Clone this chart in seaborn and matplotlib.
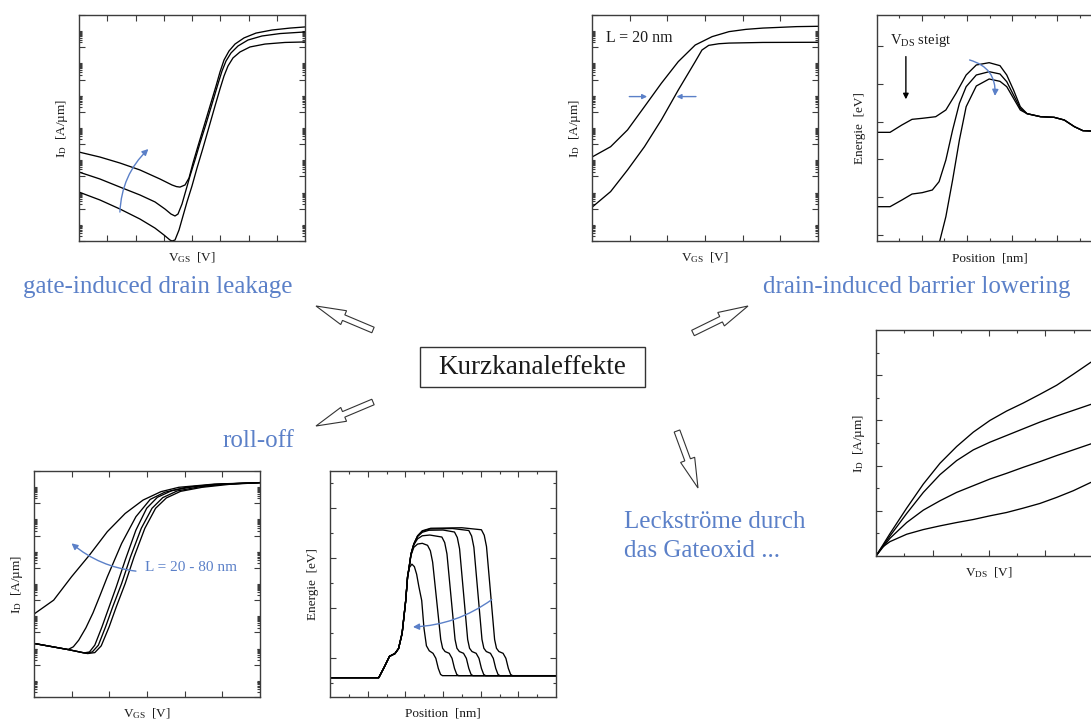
import numpy as np
import matplotlib
matplotlib.use("Agg")
import matplotlib.pyplot as plt
import matplotlib.ticker as mticker
from matplotlib.patches import FancyArrow, Rectangle
from matplotlib.transforms import Affine2D
import seaborn as sns

sns.set_theme(style="white")
plt.rcParams["font.family"] = ["Liberation Serif", "DejaVu Serif"]
plt.rcParams["mathtext.fontset"] = "custom"
plt.rcParams["mathtext.rm"] = "Liberation Serif"
plt.rcParams["mathtext.it"] = "Liberation Serif:italic"
plt.rcParams["mathtext.bf"] = "Liberation Serif:bold"

# ---------------- data (x, log10 I_D) or (x, energy) ----------------
# gate-induced drain leakage: I_D vs V_GS (log10 of I_D)
gidl_high = [(0, -8.49), (0.743, -8.80), (1.451, -9.17), (2.159, -9.60), (2.867, -10.16),
             (3.292, -10.53), (3.45, -10.63), (3.575, -10.66), (3.752, -10.53), (3.894, -10.10),
             (4.035, -9.17), (4.212, -8.12), (4.425, -6.88), (4.637, -5.64), (4.850, -4.40),
             (4.991, -3.53), (5.133, -2.79), (5.310, -2.23), (5.522, -1.80), (5.841, -1.42),
             (6.265, -1.12), (6.832, -0.93), (7.469, -0.81), (8.0, -0.74)]
gidl_mid = [(0, -9.73), (0.743, -10.16), (1.451, -10.66), (2.159, -11.15), (2.690, -11.58),
            (3.044, -12.02), (3.257, -12.33), (3.398, -12.45), (3.504, -12.33), (3.646, -11.71),
            (3.788, -10.84), (3.929, -9.97), (4.106, -8.98), (4.283, -7.93), (4.496, -6.75),
            (4.708, -5.51), (4.920, -4.27), (5.062, -3.47), (5.204, -2.85), (5.381, -2.35),
            (5.628, -1.92), (5.982, -1.55), (6.478, -1.30), (7.115, -1.15), (8.0, -1.05)]
gidl_low = [(0, -10.97), (0.743, -11.46), (1.451, -12.02), (2.159, -12.64), (2.690, -13.20),
            (3.009, -13.63), (3.221, -13.94), (3.292, -14.0), (3.398, -13.94), (3.540, -13.32),
            (3.681, -12.45), (3.823, -11.58), (4.000, -10.59), (4.177, -9.48), (4.389, -8.24),
            (4.602, -6.94), (4.814, -5.64), (4.991, -4.58), (5.133, -3.78), (5.274, -3.16),
            (5.451, -2.66), (5.699, -2.29), (6.053, -1.98), (6.584, -1.80), (7.292, -1.70),
            (8.0, -1.67)]

# DIBL: I_D vs V_GS, L = 20 nm (log10 of I_D)
dibl_id_high_vds = [(0, -8.80), (0.494, -8.16), (0.943, -7.12), (1.392, -5.68), (1.841, -4.23),
                    (2.290, -2.89), (2.740, -1.86), (3.189, -1.34), (3.638, -1.03), (4.087, -0.89),
                    (4.536, -0.81), (5.434, -0.72), (6.0, -0.70)]
dibl_id_low_vds = [(0, -11.91), (0.494, -10.94), (0.943, -9.60), (1.392, -8.16), (1.841, -6.50),
                   (2.290, -4.65), (2.740, -2.89), (2.919, -2.17), (3.099, -1.88), (3.368, -1.78),
                   (3.638, -1.74), (4.536, -1.70), (6.0, -1.69)]

# DIBL: band energy vs position for rising V_DS
dibl_e_low = [(0, 2.715), (0.599, 2.715), (1.123, 2.91), (1.572, 3.06), (2.021, 3.087),
              (2.620, 3.13), (3.069, 3.308), (3.518, 3.75), (3.967, 4.237), (4.416, 4.503),
              (4.985, 4.564), (5.464, 4.485), (5.763, 4.237), (6.063, 3.839), (6.362, 3.396),
              (6.662, 3.21)]
dibl_e_mid = [(0, 0.741), (0.599, 0.741), (1.123, 0.918), (1.572, 1.077), (2.021, 1.113),
              (2.470, 1.184), (2.769, 1.405), (3.069, 1.98), (3.368, 2.777), (3.668, 3.485),
              (3.967, 3.927), (4.416, 4.237), (4.985, 4.325), (5.464, 4.264), (5.763, 4.06),
              (6.063, 3.706), (6.362, 3.352), (6.662, 3.21)]
dibl_e_high = [(2.799, -0.17), (3.069, 0.476), (3.368, 1.45), (3.668, 2.511), (3.967, 3.396),
               (4.416, 3.945), (4.985, 4.131), (5.464, 4.069), (5.763, 3.927), (6.063, 3.617),
               (6.362, 3.308), (6.662, 3.21)]
dibl_e_drain = [(7.260, 3.13), (7.859, 3.113), (8.308, 3.042), (8.757, 2.865), (9.132, 2.759),
                (9.476, 2.75)]

# roll-off: I_D vs V_GS for L = 20 ... 80 nm (log10 of I_D)
roll_L20 = [(0.019, -8.83), (0.522, -8.00), (0.997, -6.55), (1.472, -5.21), (1.946, -3.76),
            (2.421, -2.63), (2.896, -1.80), (3.370, -1.28), (3.845, -1.01), (4.794, -0.81),
            (6.0, -0.72)]
roll_start = [(0.019, -10.69), (0.902, -11.06)]
roll_L35 = [(1.044, -10.89), (1.187, -10.48), (1.377, -9.72), (1.566, -8.79), (1.756, -7.69),
            (1.946, -6.56), (2.326, -4.49), (2.706, -2.83), (3.085, -1.76), (3.465, -1.32),
            (4.035, -1.01), (4.794, -0.83), (6.0, -0.72)]
roll_L50 = [(1.329, -11.27), (1.472, -11.21), (1.614, -10.79), (1.804, -9.66), (1.994, -8.42),
            (2.184, -7.18), (2.421, -5.52), (2.706, -3.66), (2.991, -2.31), (3.275, -1.63),
            (3.655, -1.22), (4.225, -0.97), (4.984, -0.81), (6.0, -0.72)]
roll_L65 = [(1.377, -11.29), (1.547, -11.21), (1.709, -10.79), (1.899, -9.66), (2.089, -8.42),
            (2.326, -6.97), (2.563, -5.31), (2.848, -3.55), (3.133, -2.31), (3.418, -1.65),
            (3.797, -1.24), (4.367, -0.99), (5.079, -0.81), (6.0, -0.72)]
roll_L80 = [(1.424, -11.31), (1.614, -11.25), (1.785, -10.83), (1.994, -9.66), (2.184, -8.42),
            (2.421, -6.97), (2.658, -5.31), (2.943, -3.55), (3.228, -2.31), (3.513, -1.67),
            (3.892, -1.26), (4.462, -1.01), (5.174, -0.83), (6.0, -0.72)]

# roll-off: band energy vs position for L = 20 ... 80 nm
barrier_source = [(0.0, 0.23), (2.59, 0.23), (2.88, 0.65), (3.16, 1.08), (3.45, 1.19),
                  (3.64, 1.39), (3.83, 2.0), (4.02, 3.3), (4.12, 4.25)]
barrier_L20 = [(4.22, 4.62), (4.35, 4.75), (4.48, 4.65), (4.6, 4.35), (4.72, 3.85), (4.87, 3.3),
               (4.99, 2.2), (5.12, 1.5), (5.27, 1.3), (5.47, 1.2), (5.62, 1.0), (5.75, 0.6),
               (5.87, 0.36), (5.97, 0.31), (12.0, 0.31)]
barrier_L35 = [(4.2, 4.6), (4.3, 5.1), (4.45, 5.42), (4.65, 5.55), (4.9, 5.58), (5.18, 5.50),
               (5.33, 5.28), (5.45, 4.83), (5.88, 1.75), (5.98, 1.4), (6.11, 1.27), (6.33, 1.2),
               (6.48, 1.0), (6.61, 0.6), (6.73, 0.36), (6.83, 0.31), (12.0, 0.31)]
barrier_L50 = [(4.2, 4.62), (4.3, 5.15), (4.45, 5.52), (4.65, 5.76), (4.9, 5.88), (5.3, 5.91),
               (5.94, 5.83), (6.09, 5.61), (6.21, 5.16), (6.64, 1.75), (6.74, 1.4), (6.87, 1.27),
               (7.09, 1.2), (7.24, 1.0), (7.37, 0.6), (7.49, 0.36), (7.59, 0.31), (12.0, 0.31)]
barrier_L65 = [(4.2, 4.62), (4.3, 5.15), (4.45, 5.55), (4.65, 5.85), (4.9, 6.02), (5.25, 6.1),
               (6.0, 6.11), (6.61, 6.03), (6.76, 5.81), (6.88, 5.36), (7.31, 1.75), (7.41, 1.4),
               (7.54, 1.27), (7.76, 1.2), (7.91, 1.0), (8.04, 0.6), (8.16, 0.36), (8.26, 0.31),
               (12.0, 0.31)]
barrier_L80 = [(4.2, 4.62), (4.3, 5.15), (4.45, 5.55), (4.65, 5.87), (4.9, 6.06), (5.3, 6.15),
               (6.5, 6.17), (7.37, 6.09), (7.52, 5.87), (7.64, 5.42), (8.07, 1.75), (8.17, 1.4),
               (8.30, 1.27), (8.52, 1.2), (8.67, 1.0), (8.80, 0.6), (8.92, 0.36), (9.02, 0.31),
               (12.0, 0.31)]
barrier_L95 = [(4.2, 4.62), (4.3, 5.15), (4.45, 5.55), (4.65, 5.88), (4.9, 6.08), (5.35, 6.18),
               (7.0, 6.2), (8.04, 6.12), (8.19, 5.9), (8.31, 5.45), (8.74, 1.75), (8.84, 1.4),
               (8.97, 1.27), (9.19, 1.2), (9.34, 1.0), (9.47, 0.6), (9.59, 0.36), (9.69, 0.31),
               (12.0, 0.31)]

# output characteristics: I_D vs V_DS
vds = [0, 0.496, 1.086, 1.676, 2.265, 2.855, 3.445, 4.035, 4.625, 5.215, 5.805, 6.395, 6.985, 7.611]
id_vgs4 = [0, 0.993, 2.119, 3.185, 4.104, 4.844, 5.481, 6.0, 6.415, 6.770, 7.156, 7.556, 8.044, 8.578]
id_vgs3 = [0, 0.889, 1.881, 2.815, 3.6, 4.222, 4.696, 5.037, 5.333, 5.630, 5.926, 6.193, 6.444, 6.711]
id_vgs2 = [0, 0.785, 1.481, 2.030, 2.444, 2.815, 3.111, 3.407, 3.659, 3.926, 4.178, 4.444, 4.696, 4.963]
vds_low = [0, 0.2, 0.496, 1.086, 1.676, 2.265, 2.855, 3.445, 4.035, 4.625, 5.215, 5.805, 6.395, 6.985, 7.611]
id_vgs1 = [0, 0.37, 0.637, 0.963, 1.170, 1.333, 1.481, 1.615, 1.778, 1.926, 2.119, 2.326, 2.593, 2.889, 3.259]

# ---------------- styling ----------------
W, H = 1091, 719
BLUE = "#5b80c8"
INK = "#1a1a1a"
SPINE = "#3c3c3c"
LBL = 9.5

fig = plt.figure(figsize=(W / 100, H / 100), dpi=100)
fig.patch.set_facecolor("white")
PX = Affine2D().scale(1 / W, 1 / H) + fig.transFigure


def panel(left, top, size=226):
    ax = fig.add_axes([left / W, 1 - (top + size) / H, size / W, size / H])
    ax.set_facecolor("white")
    ax.grid(False)
    for s in ax.spines.values():
        s.set_visible(True)
        s.set_color(SPINE)
        s.set_linewidth(1.0)
    return ax


def finish(ax, xl, yl):
    ax.tick_params(which="both", direction="in", top=True, right=True, bottom=True, left=True,
                   labelbottom=False, labelleft=False, color=SPINE, width=0.8)
    ax.tick_params(which="major", length=4.2)
    ax.tick_params(which="minor", length=2.3)
    ax.xaxis.set_major_formatter(mticker.NullFormatter())
    ax.xaxis.set_minor_formatter(mticker.NullFormatter())
    ax.yaxis.set_major_formatter(mticker.NullFormatter())
    ax.yaxis.set_minor_formatter(mticker.NullFormatter())
    ax.set_xlabel(xl, fontsize=LBL, color=INK, va="center")
    ax.set_ylabel(yl, fontsize=LBL, color=INK, va="center")
    ax.xaxis.set_label_coords(0.5, -17 / 226)
    ax.yaxis.set_label_coords(-17 / 226, 0.5)


def draw(ax, pts, log=False):
    x = np.array([p[0] for p in pts], dtype=float)
    y = np.array([p[1] for p in pts], dtype=float)
    if log:
        y = np.power(10.0, y)
    sns.lineplot(x=x, y=y, ax=ax, color="black", lw=0.95, sort=False, estimator=None,
                 legend=False)


def log_axis(ax, xmax):
    ax.set_yscale("log")
    ax.set_ylim(1e-14, 1.0)
    ax.set_xlim(0, xmax)
    ax.yaxis.set_major_locator(mticker.FixedLocator([10.0 ** e for e in range(-14, 1, 2)]))
    ax.yaxis.set_minor_locator(mticker.FixedLocator(
        [m * 10.0 ** e for e in range(-14, 0, 2) for m in range(2, 11)]))
    ax.xaxis.set_major_locator(mticker.FixedLocator(list(range(1, xmax))))
    ax.xaxis.set_minor_locator(mticker.NullLocator())


def blue_arrow(ax, start, end, rad, color=BLUE, ms=9):
    ax.annotate("", xy=end, xytext=start, xycoords="axes fraction", textcoords="axes fraction",
                arrowprops=dict(arrowstyle="-|>", color=color, lw=1.0, mutation_scale=ms,
                                shrinkA=0, shrinkB=0, connectionstyle=f"arc3,rad={rad}"))


ID_LABEL = r"$\mathrm{I}_{\mathrm{D}}$  [A/µm]"
VGS_LABEL = r"$\mathrm{V}_{\mathrm{GS}}$  [V]"
VDS_LABEL = r"$\mathrm{V}_{\mathrm{DS}}$  [V]"
POS_LABEL = "Position  [nm]"
E_LABEL = "Energie  [eV]"

# Panel 1: GIDL
ax1 = panel(79, 15)
for c in (gidl_high, gidl_mid, gidl_low):
    draw(ax1, c, log=True)
log_axis(ax1, 8)
finish(ax1, VGS_LABEL, ID_LABEL)
blue_arrow(ax1, (0.181, 0.128), (0.307, 0.407), -0.2)

# Panel 2: DIBL I-V
ax2 = panel(592, 15)
for c in (dibl_id_high_vds, dibl_id_low_vds):
    draw(ax2, c, log=True)
log_axis(ax2, 6)
finish(ax2, VGS_LABEL, ID_LABEL)
blue_arrow(ax2, (0.165, 0.639), (0.244, 0.639), 0.0, ms=7)
blue_arrow(ax2, (0.46, 0.639), (0.374, 0.639), 0.0, ms=7)
ax2.text(0.06, 0.90, "L = 20 nm", transform=ax2.transAxes, fontsize=11.5, color=INK,
         ha="left", va="center")

# Panel 3: DIBL band diagram
ax3 = panel(876.5, 15)
for c in (dibl_e_low, dibl_e_mid, dibl_e_high):
    draw(ax3, c + dibl_e_drain)
ax3.set_xlim(0, 10)
ax3.set_ylim(-0.17, 5.83)
ax3.xaxis.set_major_locator(mticker.FixedLocator([2, 4, 6, 8]))
ax3.xaxis.set_minor_locator(mticker.FixedLocator([1, 3, 5, 7, 9]))
ax3.yaxis.set_major_locator(mticker.FixedLocator([0, 1, 2, 3, 4, 5]))
ax3.yaxis.set_minor_locator(mticker.NullLocator())
finish(ax3, POS_LABEL, E_LABEL)
ax3.text(0.06, 0.888, r"$\mathrm{V}_{\mathrm{DS}}$ steigt", transform=ax3.transAxes,
         fontsize=10.5, color=INK, ha="left", va="center")
blue_arrow(ax3, (0.13, 0.816), (0.13, 0.627), 0.0, color="black", ms=8)
blue_arrow(ax3, (0.412, 0.801), (0.524, 0.642), -0.4)

# Panel 4: roll-off I-V
ax4 = panel(34, 471)
draw(ax4, roll_L20, log=True)
for c in (roll_L35, roll_L50, roll_L65, roll_L80):
    draw(ax4, roll_start + c, log=True)
log_axis(ax4, 6)
finish(ax4, VGS_LABEL, ID_LABEL)
blue_arrow(ax4, (0.451, 0.557), (0.166, 0.68), -0.15)
ax4.text(0.49, 0.575, "L = 20 - 80 nm", transform=ax4.transAxes, fontsize=11, color=BLUE,
         ha="left", va="center")

# Panel 5: roll-off band diagram
ax5 = panel(330, 471)
for c in (barrier_L20, barrier_L35, barrier_L50, barrier_L65, barrier_L80, barrier_L95):
    draw(ax5, barrier_source + c)
ax5.set_xlim(0, 12)
ax5.set_ylim(-0.54, 8.46)
ax5.xaxis.set_major_locator(mticker.FixedLocator([2, 4, 6, 8, 10]))
ax5.xaxis.set_minor_locator(mticker.FixedLocator([1, 3, 5, 7, 9, 11]))
ax5.yaxis.set_major_locator(mticker.FixedLocator([1, 3, 5, 7]))
ax5.yaxis.set_minor_locator(mticker.FixedLocator([0, 2, 4, 6, 8]))
finish(ax5, POS_LABEL, E_LABEL)
blue_arrow(ax5, (0.716, 0.431), (0.367, 0.31), -0.15)

# Panel 6: output characteristics
ax6 = panel(876, 330)
for xs, ys in ((vds, id_vgs4), (vds, id_vgs3), (vds, id_vgs2), (vds_low, id_vgs1)):
    draw(ax6, list(zip(xs, ys)))
ax6.set_xlim(0, 8)
ax6.set_ylim(0, 10)
ax6.xaxis.set_major_locator(mticker.FixedLocator([2, 4, 6]))
ax6.xaxis.set_minor_locator(mticker.FixedLocator([1, 3, 5, 7]))
ax6.yaxis.set_major_locator(mticker.FixedLocator([2, 4, 6, 8]))
ax6.yaxis.set_minor_locator(mticker.FixedLocator([1, 3, 5, 7, 9]))
finish(ax6, VDS_LABEL, ID_LABEL)

# ---------------- central diagram ----------------
fig.add_artist(Rectangle((420, H - 387), 225, 40, transform=PX, fill=False,
                         edgecolor="#333333", lw=1.0))
fig.text(532.5 / W, 1 - 367 / H, "Kurzkanaleffekte", fontsize=19.5, color=INK,
         ha="center", va="center")


def hollow(tail, tip):
    x0, y0 = tail[0], H - tail[1]
    x1, y1 = tip[0], H - tip[1]
    fig.add_artist(FancyArrow(x0, y0, x1 - x0, y1 - y0, width=6, head_width=15,
                              head_length=30, length_includes_head=True, transform=PX,
                              facecolor="white", edgecolor="#333333", lw=0.8))


hollow((373, 330), (316, 306))
hollow((693, 333), (748, 306))
hollow((373, 402), (316, 426))
hollow((677, 431), (698, 488))

BIG = 18
fig.text(158 / W, 1 - 287 / H, "gate-induced drain leakage", fontsize=BIG, color=BLUE,
         ha="center", va="center")
fig.text(917 / W, 1 - 287 / H, "drain-induced barrier lowering", fontsize=BIG, color=BLUE,
         ha="center", va="center")
fig.text(258 / W, 1 - 441 / H, "roll-off", fontsize=BIG, color=BLUE, ha="center", va="center")
fig.text(624 / W, 1 - 522 / H, "Leckströme durch", fontsize=BIG, color=BLUE, ha="left",
         va="center")
fig.text(624 / W, 1 - 551 / H, "das Gateoxid ...", fontsize=BIG, color=BLUE, ha="left",
         va="center")

fig.savefig("out.png", dpi=100, facecolor="white")
